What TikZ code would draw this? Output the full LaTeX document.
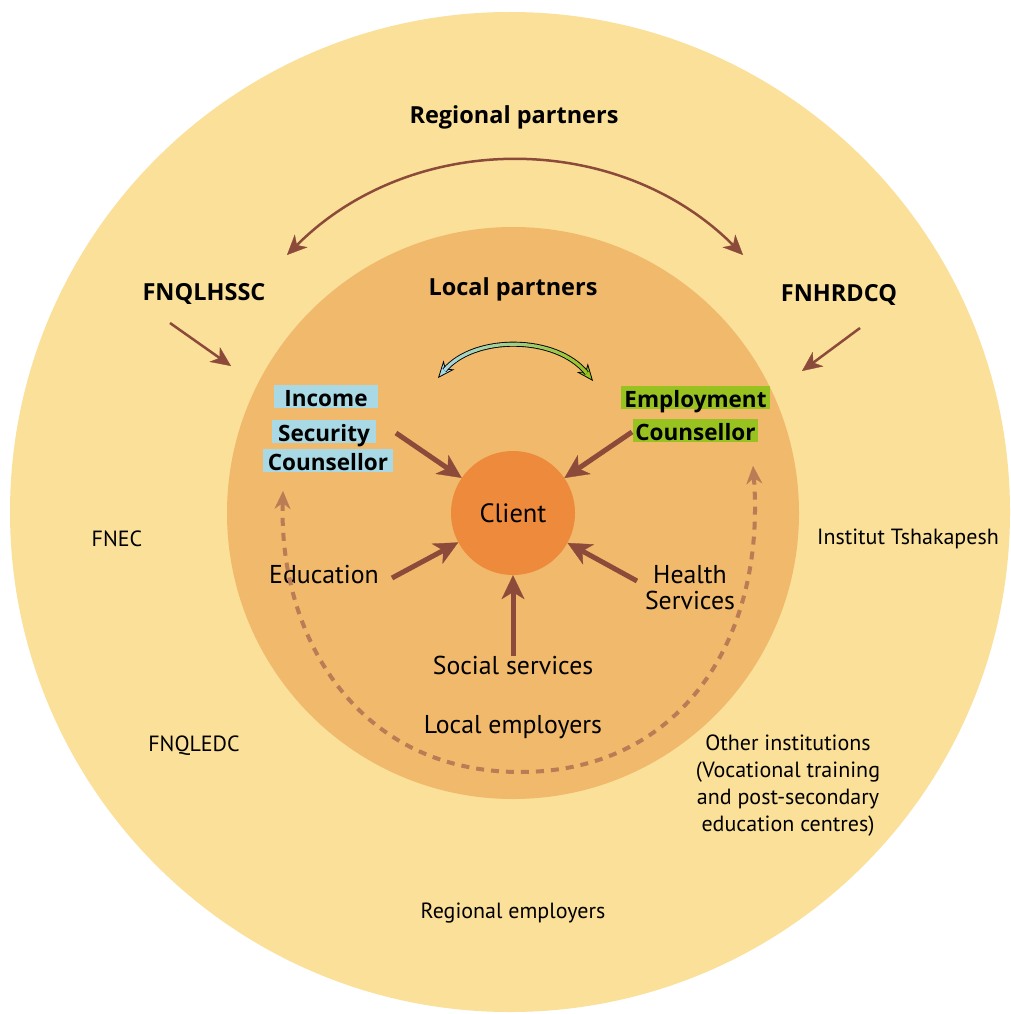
\documentclass[tikz,border=0pt]{standalone}
\usepackage{fontspec}
\setmainfont{PT Sans}
\newfontfamily\hdfont{Open Sans}
\usetikzlibrary{arrows.meta}
\definecolor{outerc}{HTML}{FAE098}
\definecolor{innerc}{HTML}{F0B96B}
\definecolor{clientc}{HTML}{EE8A3C}
\definecolor{brownc}{HTML}{8B4A3A}
\definecolor{dashc}{HTML}{B97C55}
\definecolor{bluec}{HTML}{A8D9E4}
\definecolor{greenc}{HTML}{98C21F}
\tikzset{
  disc/.style={circle, inner sep=0pt, draw=none},
  boldlbl/.style={font=\hdfont\fontsize{23.5}{26}\selectfont\bfseries, inner sep=0pt},
  lbl/.style={font=\fontsize{25.8}{26}\selectfont, inner sep=0pt, align=center},
  smalllbl/.style={font=\fontsize{22}{27}\selectfont, inner sep=0pt, align=center},
  hilite/.style={font=\hdfont\fontsize{22.5}{26}\selectfont\bfseries, inner xsep=0pt, inner ysep=1.5pt,
     text height=19.5pt, text depth=0.5pt, anchor=base},
  thinarrow/.style={brownc, line width=2.5pt, -{Stealth[length=20pt,width=18pt,inset=6pt,line width=0.3pt]}},
  thickarrow/.style={brownc, line width=5pt, -{Stealth[length=24pt,width=23pt,inset=7pt,line width=0.3pt]}},
  dasharrow/.style={dashc, line width=4pt, dash pattern=on 8pt off 7pt,
     {Stealth[length=18pt,width=16pt,inset=6pt,line width=0.3pt]}-{Stealth[length=18pt,width=16pt,inset=6pt,line width=0.3pt]}}
}
\begin{document}
\begin{tikzpicture}[x=1pt,y=-1pt]
\useasboundingbox (0,0) rectangle (1010,1014);
\fill[white] (0,0) rectangle (1010,1014);
\node[disc, fill=outerc, minimum size=1000pt] (outer) at (510,512) {};
\node[disc, fill=innerc, minimum size=572pt] (inner) at (513,513) {};
\node[disc, fill=clientc, minimum size=124pt, font=\fontsize{26.5}{28}\selectfont] (client) at (513,513) {Client};

% regional level
\node[boldlbl] (regp) at (514,117) {Regional partners};
\node[boldlbl] (fnql) at (204,294) {FNQLHSSC};
\node[boldlbl] (fnhr) at (839,295) {FNHRDCQ};
\node[smalllbl] (fnec) at (117,539) {FNEC};
\node[smalllbl] (tshak) at (908,539) {Institut Tshakapesh};
\node[smalllbl] (fnqledc) at (194,746) {FNQLEDC};
\node[smalllbl] (other) at (788,786) {Other institutions\\(Vocational training\\and post-secondary\\education centres)};
\node[smalllbl] (regemp) at (513,913) {Regional employers};

% local level
\node[boldlbl] (locp) at (513,289) {Local partners};
\node[hilite, fill=bluec, minimum width=104pt] (isc1) at (326,406) {Income};
\node[hilite, fill=bluec, minimum width=104pt] (isc2) at (324,441) {Security};
\node[hilite, fill=bluec, minimum width=130pt] (isc3) at (328,470) {Counsellor};
\node[hilite, fill=greenc, minimum width=149pt] (ec1) at (695.5,407) {Employment};
\node[hilite, fill=greenc, minimum width=125pt] (ec2) at (695.5,440) {Counsellor};
\node[lbl] (edu) at (324,575) {Education};
\node[lbl] (health) at (690,588) {Health\\Services};
\node[lbl] (social) at (513,665) {Social services};
\node[lbl] (locemp) at (513,727) {Local employers};

% top arc between regional partners
\coordinate (tl) at (287,255);
\coordinate (tr) at (743,255);
\draw[brownc, line width=2.5pt, {Stealth[length=20pt,width=18pt,inset=6pt,line width=0.3pt]}-{Stealth[length=20pt,width=18pt,inset=6pt,line width=0.3pt]}]
  (tl) .. controls (412,130) and (618,130) .. (tr);

% small arrows from regional partners
\coordinate (a1s) at (170,323); \coordinate (a1e) at (231,366);
\coordinate (a2s) at (860,328); \coordinate (a2e) at (802,371);
\draw[thinarrow] (a1s) -- (a1e);
\draw[thinarrow] (a2s) -- (a2e);

% gradient double arrow between counsellors
\coordinate (gl) at (438,378);
\coordinate (gr) at (593,381);
\draw[black, line width=0.8pt, {Stealth[length=17pt,width=14pt,inset=5pt,fill=bluec]}-{Stealth[length=17pt,width=14pt,inset=5pt,fill=greenc]}]
  (gl) .. controls (474,335) and (556,335) .. (gr);
\draw[black, line width=5pt, shorten <=10pt, shorten >=10pt]
  (gl) .. controls (474,335) and (556,335) .. (gr);
\foreach \i in {0,...,15}{
  \pgfmathsetmacro\p{100-\i*100/15}
  \begin{scope}
    \clip (436+\i*10,320) rectangle (446.5+\i*10,400);
    \draw[color=bluec!\p!greenc, line width=3.2pt, shorten <=10pt, shorten >=10pt]
      (gl) .. controls (474,335) and (556,335) .. (gr);
  \end{scope}
}

% arrows into client
\coordinate (iscs) at (396,433);
\coordinate (ecs) at (632,432);
\coordinate (edus) at (392,578);
\coordinate (hs) at (637,581);
\coordinate (ss) at (513,656);
\draw[thickarrow] (iscs) -- (client);
\draw[thickarrow] (ecs) -- (client);
\draw[thickarrow] (edus) -- (client);
\draw[thickarrow] (hs) -- (client);
\draw[thickarrow] (ss) -- (client);

% dashed loop
\coordinate (dl) at (283,491);
\coordinate (dm) at (520,772);
\coordinate (dr) at (753,466);
\draw[dasharrow] (dl) .. controls (279,640) and (360,772) .. (dm)
   .. controls (680,772) and (766,640) .. (dr);
\end{tikzpicture}
\end{document}
